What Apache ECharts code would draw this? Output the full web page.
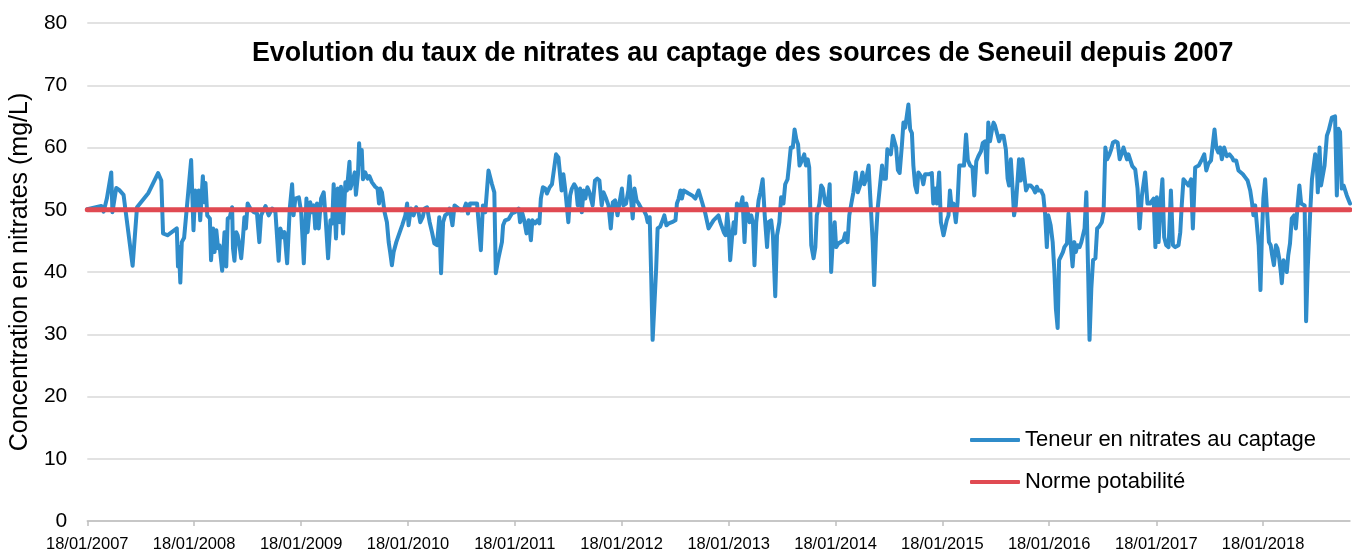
<!DOCTYPE html>
<html>
<head>
<meta charset="utf-8">
<title>Nitrates Seneuil</title>
<script src="https://cdn.jsdelivr.net/npm/echarts@6/dist/echarts.min.js"></script>
<style>
  html, body { margin: 0; padding: 0; background: #fff; }
  #chart { width: 1352px; height: 553px; }
</style>
</head>
<body>
<div id="chart"></div>
<script type="text/javascript">
// libellés de l'axe des dates
var tickLabels = ['18/01/2007', '18/01/2008', '18/01/2009', '18/01/2010', '18/01/2011', '18/01/2012',
                  '18/01/2013', '18/01/2014', '18/01/2015', '18/01/2016', '18/01/2017', '18/01/2018'];
var yTicks = [0, 10, 20, 30, 40, 50, 60, 70, 80];
var norme = 50;

// relevés au captage : [date, mg/L]
var releves = [
  ['2007-01-18',50.1],['2007-03-07',50.6],['2007-03-15',49.7],['2007-03-26',51.8],['2007-04-10',56],['2007-04-14',49.6],
  ['2007-04-27',53.5],['2007-05-07',53.2],['2007-05-22',52.4],['2007-06-22',41],['2007-07-07',50.4],['2007-08-15',52.7],
  ['2007-09-17',55.9],['2007-09-28',54.7],['2007-10-04',46.2],['2007-10-19',45.9],['2007-11-20',47],['2007-11-24',40.9],
  ['2007-11-27',44],['2007-12-02',38.3],['2007-12-07',44.8],['2007-12-15',45.5],['2008-01-08',58],['2008-01-16',46.7],
  ['2008-01-22',53.1],['2008-01-30',50.2],['2008-02-03',53.1],['2008-02-08',48.3],['2008-02-17',55.4],['2008-02-21',51.2],
  ['2008-02-26',54.3],['2008-03-03',49.1],['2008-03-12',48.6],['2008-03-16',41.9],['2008-03-23',47],['2008-03-28',43.2],
  ['2008-04-03',46.7],['2008-04-09',43.8],['2008-04-14',44.3],['2008-04-23',40.2],['2008-05-01',46.4],['2008-05-07',40.9],
  ['2008-05-12',48.6],['2008-05-19',48.8],['2008-05-27',50.4],['2008-05-30',43.8],['2008-06-04',41.8],['2008-06-10',46.4],
  ['2008-06-15',45.9],['2008-06-21',44.3],['2008-06-27',42.2],['2008-07-02',44.8],['2008-07-08',48.8],['2008-07-13',47],
  ['2008-07-19',51],['2008-07-28',50.2],['2008-08-09',49.6],['2008-08-20',49.4],['2008-08-28',44.8],['2008-09-03',49.1],
  ['2008-09-18',50.6],['2008-09-29',49.1],['2008-10-11',50.2],['2008-10-22',49.6],['2008-11-02',41.8],['2008-11-08',47],
  ['2008-11-16',45.6],['2008-11-22',46.4],['2008-12-01',41.4],['2008-12-10',50.2],['2008-12-18',54.1],['2008-12-23',49.1],
  ['2008-12-29',51.8],['2009-01-10',52],['2009-01-18',49.6],['2009-01-27',41.4],['2009-02-05',51.8],['2009-02-09',46.4],
  ['2009-02-18',51.2],['2009-02-25',49.6],['2009-03-02',50.7],['2009-03-07',47],['2009-03-13',51],['2009-03-19',47],
  ['2009-03-27',51.8],['2009-04-05',52.8],['2009-04-11',49.1],['2009-04-20',42.2],['2009-04-28',48.3],['2009-05-04',47.8],
  ['2009-05-09',54.1],['2009-05-17',45.4],['2009-05-23',53.4],['2009-05-30',48],['2009-06-03',53.7],['2009-06-10',46.2],
  ['2009-06-18',54.4],['2009-06-23',53.1],['2009-07-02',57.7],['2009-07-05',53.4],['2009-07-13',54.7],['2009-07-20',56],
  ['2009-07-24',52.4],['2009-07-31',55.6],['2009-08-04',60.7],['2009-08-08',57.4],['2009-08-13',59.6],['2009-08-17',54.9],
  ['2009-08-25',56],['2009-09-02',55],['2009-09-08',55.4],['2009-09-17',54.4],['2009-09-28',53.7],['2009-10-06',53.4],
  ['2009-10-11',51],['2009-10-15',53.4],['2009-10-21',52.8],['2009-10-30',49.6],['2009-11-07',48],['2009-11-13',44.8],
  ['2009-11-18',43.2],['2009-11-24',41.1],['2009-11-30',43.2],['2009-12-09',44.8],['2009-12-17',45.9],['2009-12-29',47.5],
  ['2010-01-09',49.1],['2010-01-15',51],['2010-01-20',47.5],['2010-01-28',50.2],['2010-02-06',49.1],['2010-02-15',50.4],
  ['2010-02-23',49.6],['2010-03-01',48],['2010-03-09',48.8],['2010-03-16',50.2],['2010-03-24',50.4],['2010-04-02',48],
  ['2010-04-10',46.4],['2010-04-18',44.6],['2010-04-27',44.3],['2010-05-05',48.8],['2010-05-11',39.8],['2010-05-18',48],
  ['2010-05-25',49.1],['2010-06-02',49.4],['2010-06-09',50.2],['2010-06-19',47.5],['2010-06-26',50.7],['2010-07-02',50.8],
  ['2010-07-10',50.2],['2010-07-18',49.9],['2010-07-27',49.9],['2010-08-04',51],['2010-08-11',49.4],['2010-08-18',51],
  ['2010-08-30',51],['2010-09-11',51],['2010-09-16',51.2],['2010-09-24',43.5],['2010-10-01',50.7],['2010-10-09',49.6],
  ['2010-10-20',56.3],['2010-11-01',54.1],['2010-11-09',52.8],['2010-11-14',39.8],['2010-11-23',42.2],['2010-12-05',44.8],
  ['2010-12-09',47.5],['2010-12-16',48.3],['2010-12-28',48.5],['2011-01-08',49.4],['2011-01-19',49.6],['2011-01-31',50.2],
  ['2011-02-05',48],['2011-02-13',49.4],['2011-02-19',48.3],['2011-02-27',46.2],['2011-03-06',48.3],['2011-03-14',45.1],
  ['2011-03-19',48.3],['2011-03-28',47.8],['2011-04-05',48.3],['2011-04-12',47.8],['2011-04-17',51.8],['2011-04-24',53.6],
  ['2011-05-02',53.4],['2011-05-08',52.6],['2011-05-17',53.6],['2011-05-25',54.1],['2011-05-30',54.4],['2011-06-08',58.9],
  ['2011-06-16',58.4],['2011-06-22',58.6],['2011-06-27',53.1],['2011-07-03',55.7],['2011-07-09',53.4],['2011-07-15',53.4],
  ['2011-07-20',48],['2011-07-26',52.3],['2011-08-01',53.4],['2011-08-09',54.1],['2011-08-15',53.6],['2011-08-21',50.7],
  ['2011-08-29',53.4],['2011-09-04',49.6],['2011-09-10',53.1],['2011-09-16',51.8],['2011-09-23',53.6],['2011-09-30',52.8],
  ['2011-10-05',51.8],['2011-10-11',50.7],['2011-10-19',54.7],['2011-10-27',55],['2011-11-03',54.7],['2011-11-11',50.7],
  ['2011-11-17',52.8],['2011-11-26',51.8],['2011-12-04',50.7],['2011-12-12',47],['2011-12-19',51.2],['2011-12-27',51.5],
  ['2012-01-04',49.1],['2012-01-11',51.2],['2012-01-19',53.4],['2012-01-24',50.7],['2012-02-02',51],['2012-02-10',53.1],
  ['2012-02-14',55.4],['2012-02-19',51.8],['2012-02-25',48.6],['2012-03-02',53.4],['2012-03-09',51.5],['2012-03-16',51],
  ['2012-03-25',50.2],['2012-04-03',49.9],['2012-04-11',49.1],['2012-04-16',48],['2012-04-23',48.8],['2012-04-28',39.5],
  ['2012-05-03',29.1],['2012-05-09',34.7],['2012-05-15',40.5],['2012-05-20',47],['2012-05-29',47.3],['2012-06-06',48.3],
  ['2012-06-12',49.1],['2012-06-19',47.5],['2012-06-27',47.8],['2012-07-08',48],['2012-07-20',48.3],['2012-07-25',51],
  ['2012-07-31',51.8],['2012-08-06',53.1],['2012-08-11',51.8],['2012-08-17',53.1],['2012-08-23',53.1],['2012-09-03',52.6],
  ['2012-09-15',52.3],['2012-09-26',51.8],['2012-10-07',53.1],['2012-10-19',51.2],['2012-10-30',49.4],['2012-11-10',47],
  ['2012-11-27',48.3],['2012-12-14',49.1],['2012-12-20',48],['2013-01-01',46.4],['2013-01-07',45.9],['2013-01-13',49.4],
  ['2013-01-18',47],['2013-01-23',41.9],['2013-01-29',45.4],['2013-02-04',48],['2013-02-09',46.2],['2013-02-15',51],
  ['2013-02-21',51],['2013-02-26',50.2],['2013-03-06',52],['2013-03-13',44.8],['2013-03-19',51],['2013-03-24',50.7],
  ['2013-03-30',48],['2013-04-05',49.1],['2013-04-11',47.8],['2013-04-16',41.1],['2013-04-22',48],['2013-04-30',51.5],
  ['2013-05-06',52.8],['2013-05-14',54.9],['2013-05-21',49.1],['2013-05-29',44],['2013-06-03',48],['2013-06-12',48.3],
  ['2013-06-18',45.9],['2013-06-26',36.1],['2013-07-02',45.9],['2013-07-10',48],['2013-07-16',52],['2013-07-24',51],
  ['2013-07-30',54.1],['2013-08-07',54.9],['2013-08-12',57.1],['2013-08-18',60],['2013-08-25',60],['2013-08-31',62.9],
  ['2013-09-06',61.3],['2013-09-12',60.5],['2013-09-17',57.1],['2013-09-25',57.9],['2013-10-03',58.9],['2013-10-09',57.1],
  ['2013-10-15',58.1],['2013-10-20',56.8],['2013-10-27',44.3],['2013-11-04',42.2],['2013-11-10',44],['2013-11-15',49.1],
  ['2013-11-24',51],['2013-11-30',53.9],['2013-12-06',53.4],['2013-12-14',51],['2013-12-22',50.7],['2013-12-29',54.1],
  ['2014-01-03',40],['2014-01-09',45.4],['2014-01-15',48],['2014-01-20',44],['2014-01-28',44.6],['2014-02-05',44.8],
  ['2014-02-14',45.1],['2014-02-20',46.2],['2014-02-28',44.8],['2014-03-06',49.1],['2014-03-13',51],['2014-03-20',52.8],
  ['2014-03-28',56],['2014-04-04',52.8],['2014-04-12',53.9],['2014-04-20',56],['2014-04-26',54.1],['2014-05-03',55],
  ['2014-05-11',57.1],['2014-05-17',51.8],['2014-05-25',44.8],['2014-05-30',37.9],['2014-06-05',45.4],['2014-06-11',50.2],
  ['2014-06-20',54.4],['2014-06-26',57.1],['2014-07-01',55],['2014-07-09',55],['2014-07-14',59.7],['2014-07-20',60],
  ['2014-07-26',58.9],['2014-08-02',61.9],['2014-08-08',62.1],['2014-08-13',60],['2014-08-19',56.4],['2014-08-25',55.9],
  ['2014-09-02',60.5],['2014-09-07',64],['2014-09-13',63.2],['2014-09-19',62.9],['2014-09-24',66.9],['2014-09-30',62.9],
  ['2014-10-06',62.3],['2014-10-11',57.1],['2014-10-17',53.9],['2014-10-23',52.8],['2014-10-28',56],['2014-11-03',56],
  ['2014-11-09',55.2],['2014-11-14',54.1],['2014-11-20',55.7],['2014-12-02',55.7],['2014-12-13',55.9],['2014-12-18',51],
  ['2014-12-24',53.4],['2014-12-30',51],['2015-01-07',56],['2015-01-13',48],['2015-01-22',45.9],['2015-02-02',48.3],
  ['2015-02-08',49.1],['2015-02-13',53.1],['2015-02-19',50.2],['2015-02-25',51],['2015-03-05',48],['2015-03-11',51.2],
  ['2015-03-17',57.1],['2015-03-26',57.1],['2015-04-02',57.1],['2015-04-09',62.1],['2015-04-15',58],['2015-04-23',57.1],
  ['2015-05-01',56.8],['2015-05-07',52.3],['2015-05-14',57.8],['2015-05-21',58.6],['2015-05-30',59.4],['2015-06-05',60.7],
  ['2015-06-13',61],['2015-06-19',56],['2015-06-24',64],['2015-06-30',61],['2015-07-06',62.7],['2015-07-12',64],
  ['2015-07-17',63.5],['2015-07-25',62.1],['2015-07-31',61],['2015-08-07',61.9],['2015-08-15',61.9],['2015-08-23',59.7],
  ['2015-08-29',55],['2015-09-03',53.9],['2015-09-09',58.1],['2015-09-15',53.4],['2015-09-20',49.1],['2015-09-26',50.7],
  ['2015-10-02',51],['2015-10-07',58.1],['2015-10-13',54.7],['2015-10-19',58.1],['2015-10-25',55.6],['2015-10-31',53.1],
  ['2015-11-08',53.9],['2015-11-16',53.9],['2015-11-25',53.4],['2015-12-01',52.8],['2015-12-07',53.7],['2015-12-12',53.1],
  ['2015-12-21',53.1],['2015-12-29',52.3],['2016-01-04',49.4],['2016-01-10',44],['2016-01-15',49.1],['2016-01-23',47.5],
  ['2016-01-30',44.8],['2016-02-05',40],['2016-02-10',34.1],['2016-02-16',31],['2016-02-21',41.9],['2016-02-27',42.2],
  ['2016-03-05',43.2],['2016-03-10',44],['2016-03-19',44.6],['2016-03-24',49.4],['2016-03-30',45.4],['2016-04-07',40.9],
  ['2016-04-13',44.8],['2016-04-18',43.2],['2016-04-24',44.3],['2016-05-01',44],['2016-05-07',44.8],['2016-05-13',45.1],
  ['2016-05-18',47],['2016-05-24',52.8],['2016-05-30',40.4],['2016-06-04',29.1],['2016-06-10',37.3],['2016-06-16',41.9],
  ['2016-06-24',42.2],['2016-06-30',47],['2016-07-07',47.3],['2016-07-16',48],['2016-07-22',49.6],['2016-07-28',60],
  ['2016-08-03',58.1],['2016-08-11',58.9],['2016-08-17',59.7],['2016-08-23',60.8],['2016-08-31',61],['2016-09-08',60.8],
  ['2016-09-15',58.1],['2016-09-21',58.9],['2016-09-28',60],['2016-10-04',60],['2016-10-10',58.1],['2016-10-15',58.9],
  ['2016-10-21',58.6],['2016-10-28',57],['2016-11-07',56.5],['2016-11-15',53.4],['2016-11-22',47],['2016-11-30',52.3],
  ['2016-12-11',56],['2016-12-19',51],['2016-12-28',51],['2017-01-09',51.8],['2017-01-15',44],['2017-01-20',52],
  ['2017-01-26',44.8],['2017-02-03',52],['2017-02-08',54.9],['2017-02-14',45.6],['2017-02-21',44.3],['2017-03-01',44],
  ['2017-03-09',53.1],['2017-03-16',44.3],['2017-03-24',44],['2017-04-04',44.3],['2017-04-10',46.4],['2017-04-15',50.7],
  ['2017-04-21',54.9],['2017-04-27',54.9],['2017-05-08',53.9],['2017-05-17',54.9],['2017-05-23',47],['2017-05-31',56.8],
  ['2017-06-12',57.1],['2017-06-23',58.1],['2017-07-01',58.9],['2017-07-08',56.3],['2017-07-15',57.4],['2017-07-24',57.9],
  ['2017-07-29',60],['2017-08-05',62.9],['2017-08-11',60],['2017-08-18',59.2],['2017-08-24',60],['2017-08-30',58.1],
  ['2017-09-07',60],['2017-09-16',58.6],['2017-09-25',58.9],['2017-10-04',58.4],['2017-10-09',57.9],['2017-10-18',57.9],
  ['2017-10-26',56.3],['2017-11-01',56],['2017-11-10',55.7],['2017-11-18',55.2],['2017-11-26',54.7],['2017-12-05',53.1],
  ['2017-12-11',51.2],['2017-12-16',49.1],['2017-12-22',50.7],['2017-12-28',50.7],['2018-01-03',44.3],['2018-01-09',37.1],
  ['2018-01-14',45.9],['2018-01-19',51.8],['2018-01-25',54.9],['2018-01-31',50.2],['2018-02-07',44.8],['2018-02-13',44.3],
  ['2018-02-18',42.7],['2018-02-24',41.1],['2018-03-03',44.3],['2018-03-08',43.8],['2018-03-14',42.2],['2018-03-20',39.8],
  ['2018-03-23',38.2],['2018-03-29',41.9],['2018-04-03',41.9],['2018-04-09',40],['2018-04-14',42.7],['2018-04-20',44.6],
  ['2018-04-26',48.6],['2018-05-04',49.1],['2018-05-10',47],['2018-05-16',50.7],['2018-05-22',53.9],['2018-05-28',51],
  ['2018-06-03',50.7],['2018-06-09',50.7],['2018-06-14',32.1],['2018-06-19',40],['2018-06-28',49.6],['2018-07-04',54.9],
  ['2018-07-09',54.9],['2018-07-15',58.9],['2018-07-21',56.8],['2018-07-24',52.8],['2018-07-30',60],['2018-08-04',53.9],
  ['2018-08-10',53.6],['2018-08-16',57.1],['2018-08-24',61.9],['2018-08-30',62.7],['2018-09-04',62.7],['2018-09-10',64.8],
  ['2018-09-16',64.5],['2018-09-21',65],['2018-09-27',52.3],['2018-10-03',63],['2018-10-08',62.5],['2018-10-14',53.4],
  ['2018-10-20',53.9],['2018-10-26',53.9],['2018-10-31',52.3],['2018-11-11',51]
];

function toTime(s) {
    var p = s.split('-');
    return new Date(+p[0], +p[1] - 1, +p[2]).getTime();
}
function labelToTime(l) {
    var p = l.split('/');
    return new Date(+p[2], +p[1] - 1, +p[0]).getTime();
}

var tickValues = tickLabels.map(labelToTime);
var serieTeneur = releves.map(function (r) { return [toTime(r[0]), r[1]]; });
var serieNorme = releves.map(function (r) { return [toTime(r[0]), norme]; });

var FONT = '"Liberation Sans", Arial, sans-serif';
var myChart = echarts.init(document.getElementById('chart'), null, { renderer: 'canvas' });

var option = {
    animation: false,
    backgroundColor: '#ffffff',
    title: {
        text: 'Evolution du taux de nitrates au captage des sources de Seneuil depuis 2007',
        left: 247,
        top: 35,
        textStyle: { fontFamily: FONT, fontSize: 26.8, fontWeight: 'bold', color: '#000' }
    },
    legend: {
        orient: 'vertical',
        left: 965,
        top: 424,
        itemWidth: 50,
        itemHeight: 4,
        itemGap: 20,
        icon: 'roundRect',
        selectedMode: false,
        textStyle: { fontFamily: FONT, fontSize: 22, color: '#000' },
        data: ['Teneur en nitrates au captage', 'Norme potabilité']
    },
    grid: { left: 87, right: 2, top: 23, bottom: 29 },
    xAxis: {
        // axe des dates en millisecondes, graduations posées sur les 18/01
        type: 'value',
        min: tickValues[0],
        max: serieTeneur[serieTeneur.length - 1][0],
        axisLine: { lineStyle: { color: '#bfbfbf', width: 1.5 } },
        axisTick: { show: true, customValues: tickValues, length: 5, lineStyle: { color: '#bfbfbf', width: 1.5 } },
        axisLabel: {
            customValues: tickValues,
            fontFamily: FONT, fontSize: 16.5, color: '#000', margin: 15,
            formatter: function (v) {
                var i = tickValues.indexOf(v);
                return i >= 0 ? tickLabels[i] : '';
            }
        },
        splitLine: { show: false }
    },
    yAxis: {
        type: 'value',
        min: yTicks[0],
        max: yTicks[yTicks.length - 1],
        interval: 10,
        name: 'Concentration en nitrates (mg/L)',
        nameLocation: 'middle',
        nameGap: 50,
        nameTextStyle: { fontFamily: FONT, fontSize: 25, color: '#000' },
        axisLine: { show: false },
        axisTick: { show: false },
        axisLabel: { fontFamily: FONT, fontSize: 21, color: '#000', margin: 20 },
        splitLine: { lineStyle: { color: '#d9d9d9', width: 1.5 } }
    },
    series: [
        {
            name: 'Teneur en nitrates au captage',
            type: 'line',
            data: serieTeneur,
            showSymbol: false,
            symbol: 'none',
            color: '#2f8cca',
            lineStyle: { color: '#2f8cca', width: 4, join: 'round', cap: 'round' },
            z: 2
        },
        {
            name: 'Norme potabilité',
            type: 'line',
            data: serieNorme,
            showSymbol: false,
            symbol: 'none',
            color: '#e04a52',
            lineStyle: { color: '#e04a52', width: 5, cap: 'round' },
            z: 3
        }
    ]
};

myChart.setOption(option);
</script>
</body>
</html>
